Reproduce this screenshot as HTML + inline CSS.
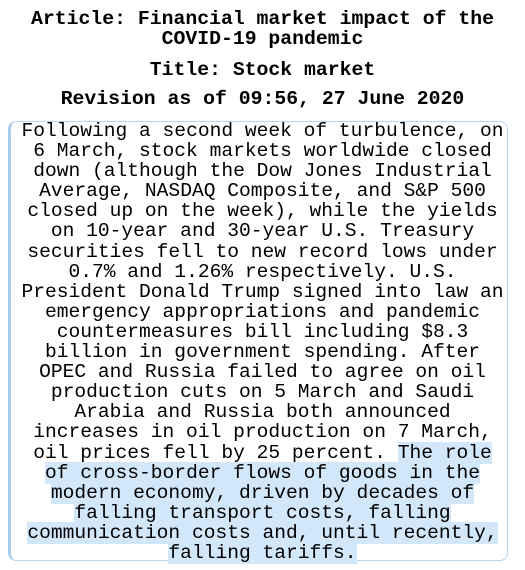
<!DOCTYPE html>
<html><head><meta charset="utf-8"><style>
body{margin:0;width:525px;height:570px;background:#fff;font-family:"Liberation Mono",monospace;color:#000;overflow:hidden}
.h{position:absolute;left:0;width:525px;text-align:center;font-weight:bold;font-size:19.8px;line-height:20px;white-space:pre}
#box{position:absolute;left:8px;top:121px;width:496px;height:438px;border:1px solid #b8d4ee;border-left:3px solid #a9cdf0;border-radius:8px}
#txt{position:absolute;left:0;top:121px;width:525px;text-align:center;font-size:19.6px;line-height:20.1px;white-space:pre}
.hl{background:#d3e7fb}
</style></head><body>
<div class="h" style="top:9px">Article: Financial market impact of the
COVID-19 pandemic</div>
<div class="h" style="top:60px">Title: Stock market</div>
<div class="h" style="top:89px">Revision as of 09:56, 27 June 2020</div>
<div id="box"></div>
<div id="txt">Following a second week of turbulence, on
6 March, stock markets worldwide closed
down (although the Dow Jones Industrial
Average, NASDAQ Composite, and S&amp;P 500
closed up on the week), while the yields
on 10-year and 30-year U.S. Treasury
securities fell to new record lows under
0.7% and 1.26% respectively. U.S.
President Donald Trump signed into law an
emergency appropriations and pandemic
countermeasures bill including $8.3
billion in government spending. After
OPEC and Russia failed to agree on oil
production cuts on 5 March and Saudi
Arabia and Russia both announced
increases in oil production on 7 March,
oil prices fell by 25 percent. <span class="hl">The role</span>
<span class="hl">of cross-border flows of goods in the</span>
<span class="hl">modern economy, driven by decades of</span>
<span class="hl">falling transport costs, falling</span>
<span class="hl">communication costs and, until recently,</span>
<span class="hl">falling tariffs.</span></div>
</body></html>
